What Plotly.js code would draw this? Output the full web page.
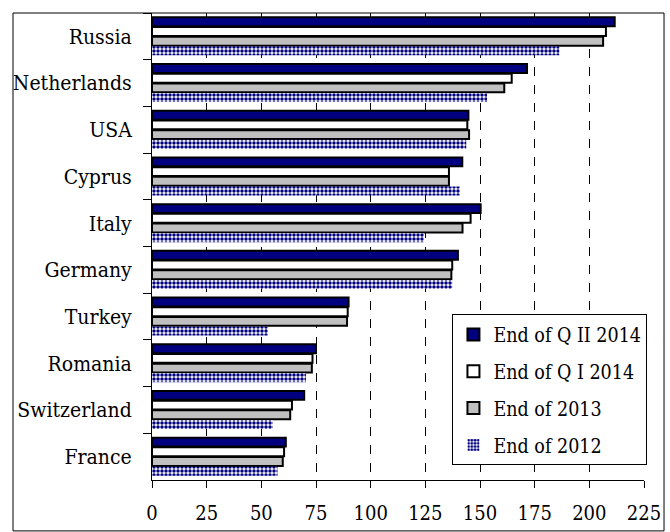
<!DOCTYPE html>
<html>
<head>
<meta charset="utf-8">
<script src="https://cdn.plot.ly/plotly-3.0.1.min.js"></script>
<style>
html,body{margin:0;padding:0;background:#fff;}
#chart{width:670px;height:532px;}
</style>
</head>
<body>
<div id="chart"></div>
<script>
const countries = ["Russia","Netherlands","USA","Cyprus","Italy","Germany","Turkey","Romania","Switzerland","France"];
const seriesNames = ["End of Q II 2014","End of Q I 2014","End of 2013","End of 2012"];
const q2_2014 = [211.6,171.5,144.7,141.9,150.3,139.9,89.9,75.0,69.6,61.2];
const q1_2014 = [207.6,164.5,144.2,135.8,145.7,137.3,89.5,73.4,64.0,60.4];
const end2013 = [206.3,161.1,145.0,135.8,142.0,136.9,89.2,73.1,63.2,59.8];
const end2012 = [186.3,153.2,143.7,140.8,124.3,137.3,53.0,70.4,55.2,57.4];
const xTicks = [0,25,50,75,100,125,150,175,200,225];

const FONT = "DejaVu Serif Condensed";

function barTrace(name, vals, marker, grp){
  return {type:'bar', orientation:'h', name:name, x:vals, y:countries,
          marker:marker, legendgroup:grp, hoverinfo:'x+y'};
}

const traces = [
  barTrace(seriesNames[0], q2_2014, {color:'#000080', line:{color:'#000000', width:2}}, 'a'),
  barTrace(seriesNames[1], q1_2014, {color:'#ffffff', line:{color:'#000000', width:2}}, 'b'),
  barTrace(seriesNames[2], end2013, {color:'#c0c0c0', line:{color:'#000000', width:2}}, 'c'),
  barTrace(seriesNames[3], end2012, {color:'#ffffff', line:{width:0},
           pattern:{shape:'.', fgcolor:'#000080', bgcolor:'#ffffff', size:4, solidity:0.6, fillmode:'replace'}}, 'd')
];

const layout = {
  width:670, height:532,
  margin:{l:152, r:26, t:13, b:52},
  paper_bgcolor:'#ffffff', plot_bgcolor:'#ffffff',
  font:{family:FONT, size:20, color:'#000000'},
  barmode:'group', bargap:0.17, bargroupgap:0.08,
  showlegend:true,
  legend:{x:1.007, y:0.355, xanchor:'right', yanchor:'top',
          bgcolor:'#ffffff', bordercolor:'#000000', borderwidth:1,
          font:{family:FONT, size:19.5, color:'#000000'},
          traceorder:'grouped', tracegroupgap:8.5, itemwidth:30},
  xaxis:{range:[0,225], tickvals:xTicks, ticktext:xTicks.map(String),
         showgrid:true, gridcolor:'#000000', griddash:'dash', gridwidth:1,
         zeroline:false, showline:true, linecolor:'#000000', linewidth:1,
         ticks:'outside', ticklen:7, tickcolor:'#000000', tickwidth:1,
         ticklabelstandoff:8, fixedrange:true},
  yaxis:{type:'category', autorange:'reversed', tickson:'boundaries',
         tickfont:{family:FONT, size:21},
         showgrid:false, zeroline:false, showline:true, linecolor:'#000000', linewidth:1,
         ticks:'outside', ticklen:8, tickcolor:'#000000', tickwidth:1,
         ticklabelstandoff:15, fixedrange:true},
  shapes:[
    {type:'rect', xref:'paper', yref:'paper', x0:-0.2825, x1:1.0407, y0:-0.109, y1:1.0,
     line:{color:'#000000', width:1}, fillcolor:'rgba(0,0,0,0)', layer:'above'}
  ]
};

Plotly.newPlot('chart', traces, layout, {displayModeBar:false, staticPlot:true});
</script>
</body>
</html>
